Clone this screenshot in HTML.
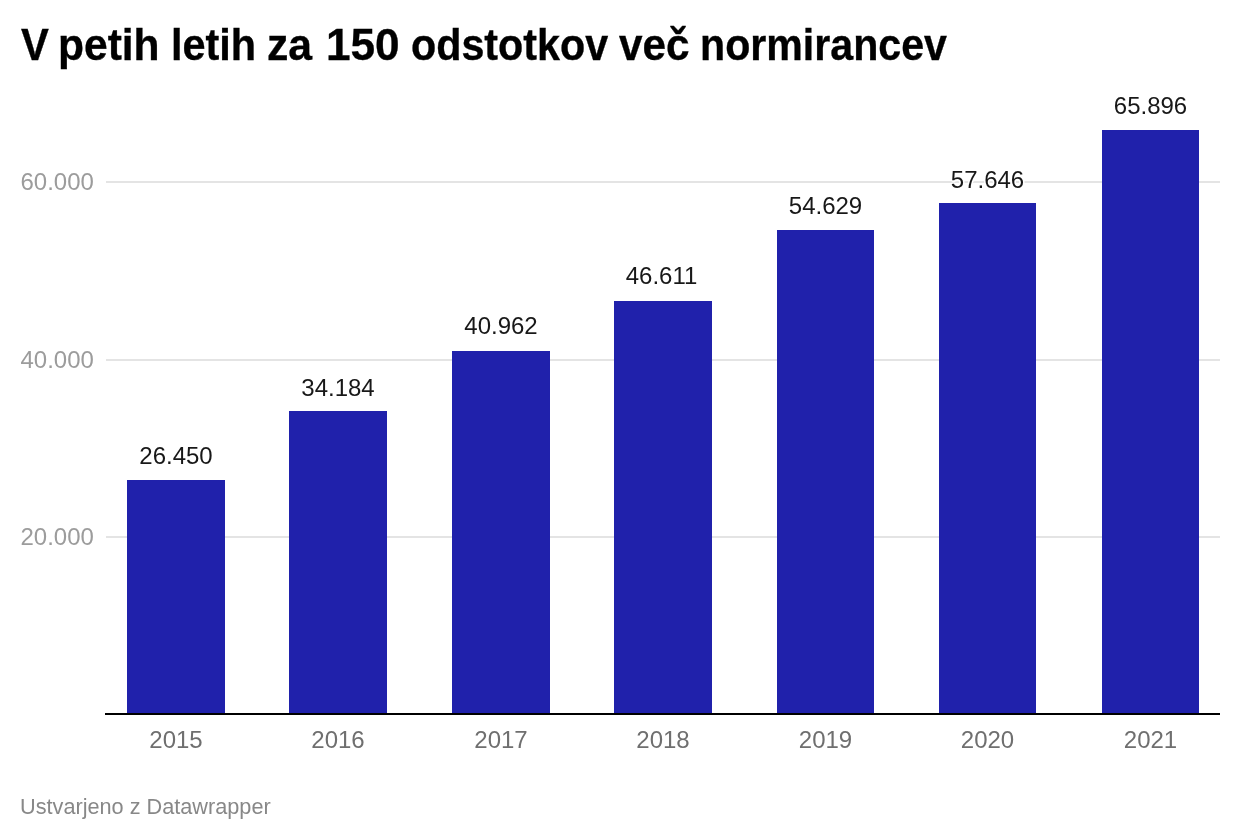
<!DOCTYPE html>
<html lang="sl"><head><meta charset="utf-8"><title>V petih letih za 150 odstotkov več normirancev</title>
<style>
html,body{margin:0;padding:0;background:#fff;}
body{width:1240px;height:840px;position:relative;overflow:hidden;font-family:"Liberation Sans",sans-serif;}
.title{position:absolute;left:0;top:19px;width:1240px;height:52px;font-size:44px;line-height:52px;font-weight:bold;color:#000;white-space:nowrap;margin:0;}
.title span{position:absolute;top:0;transform-origin:0 0;display:block;-webkit-text-stroke:0.35px #000;}
.grid{position:absolute;left:106px;width:1114px;height:2px;background:#e4e4e4;}
.ylab{position:absolute;left:20.5px;font-size:24px;line-height:28px;color:#9c9c9c;white-space:nowrap;}
.axis{position:absolute;left:105px;width:1115px;top:713px;height:2px;background:#000;}
.bar{position:absolute;background:#2021ab;}
.val{position:absolute;width:160px;text-align:center;font-size:24px;line-height:28px;color:#181818;white-space:nowrap;text-shadow:1px 1px 0 #fff,-1px -1px 0 #fff,1px -1px 0 #fff,-1px 1px 0 #fff,1.5px 0 0 #fff,-1.5px 0 0 #fff,0 1.5px 0 #fff,0 -1.5px 0 #fff;}
.xlab{position:absolute;width:160px;text-align:center;font-size:24px;line-height:28px;color:#6f6f6f;top:726px;white-space:nowrap;}
.foot{position:absolute;left:20px;top:793px;font-size:21.7px;line-height:28px;color:#888;white-space:nowrap;}
</style></head><body>
<h1 class="title"><span style="left:20.5px;transform:scaleX(0.9483)">V</span> <span style="left:58.4px;transform:scaleX(0.9667)">petih</span> <span style="left:170.98px;transform:scaleX(0.9412)">letih</span> <span style="left:266.86px;transform:scaleX(0.9711)">za</span> <span style="left:325.79px;transform:scaleX(1.0029)">150</span> <span style="left:410.62px;transform:scaleX(0.9375)">odstotkov</span> <span style="left:618.8px;transform:scaleX(0.9611)">več</span> <span style="left:700.2px;transform:scaleX(0.9349)">normirancev</span></h1>

<div class="grid" style="top:181px"></div>
<div class="ylab" style="top:168px">60.000</div>
<div class="grid" style="top:359px"></div>
<div class="ylab" style="top:346px">40.000</div>
<div class="grid" style="top:536px"></div>
<div class="ylab" style="top:523px">20.000</div>
<div class="bar" style="left:127px;top:480px;width:98px;height:234px"></div>
<div class="val" style="left:96.0px;top:442px">26.450</div>
<div class="xlab" style="left:96.0px">2015</div>
<div class="bar" style="left:289px;top:411px;width:98px;height:303px"></div>
<div class="val" style="left:258.0px;top:374px">34.184</div>
<div class="xlab" style="left:258.0px">2016</div>
<div class="bar" style="left:452px;top:351px;width:98px;height:363px"></div>
<div class="val" style="left:421.0px;top:312px">40.962</div>
<div class="xlab" style="left:421.0px">2017</div>
<div class="bar" style="left:614px;top:301px;width:98px;height:413px"></div>
<div class="val" style="left:581.5px;top:262px">46.611</div>
<div class="xlab" style="left:583.0px">2018</div>
<div class="bar" style="left:777px;top:230px;width:97px;height:484px"></div>
<div class="val" style="left:745.5px;top:192px">54.629</div>
<div class="xlab" style="left:745.5px">2019</div>
<div class="bar" style="left:939px;top:203px;width:97px;height:511px"></div>
<div class="val" style="left:907.5px;top:166px">57.646</div>
<div class="xlab" style="left:907.5px">2020</div>
<div class="bar" style="left:1102px;top:130px;width:97px;height:584px"></div>
<div class="val" style="left:1070.5px;top:92px">65.896</div>
<div class="xlab" style="left:1070.5px">2021</div>
<div class="axis"></div>
<div class="foot">Ustvarjeno z Datawrapper</div>
</body></html>
